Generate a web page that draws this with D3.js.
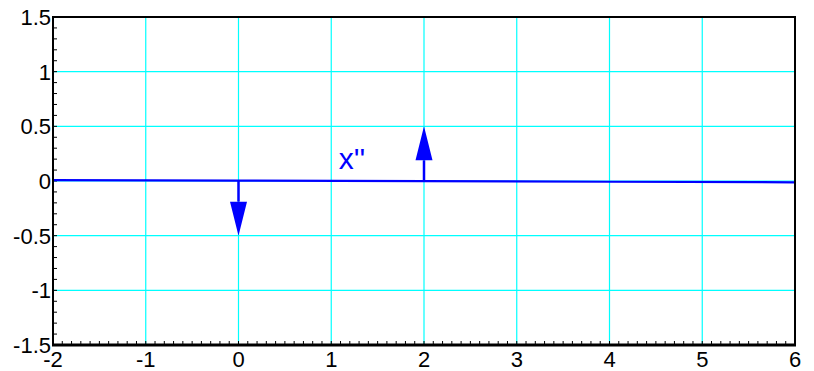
<!DOCTYPE html>
<html><head><meta charset="utf-8">
<script src="https://cdn.jsdelivr.net/npm/d3@7"></script>
<style>body{margin:0;background:#fff}svg{display:block}text{font-family:"Liberation Sans",Arial,sans-serif}</style>
</head><body>
<svg id="c" width="814" height="371"></svg>
<script>
const xTicks = [-2, -1, 0, 1, 2, 3, 4, 5, 6];
const xTickLabels = ["-2", "-1", "0", "1", "2", "3", "4", "5", "6"];
const yTicks = [-1.5, -1, -0.5, 0, 0.5, 1, 1.5];
const yTickLabels = ["-1.5", "-1", "-0.5", "0", "0.5", "1", "1.5"];
const lineX = [-2, 0, 2, 4, 6];
const lineY = [0.008, 0.003, -0.002, -0.007, -0.012];
const impulseX = [0, 2];
const impulseW = [-0.5, 0.5];
const labelText = "x''";
const labelPos = [1.08, 0.11];

const svg = d3.select("#c");
const L = 53, R = 795, T = 17, B = 345;
const x = d3.scaleLinear().domain([-2, 6]).range([L, R]);
const y = d3.scaleLinear().domain([-1.5, 1.5]).range([B, T]);

// grid
const g = svg.append("g");
g.selectAll(".gx").data(xTicks).enter().append("line")
  .attr("x1", d => x(d)).attr("x2", d => x(d)).attr("y1", T).attr("y2", B)
  .attr("stroke", "#00ffff").attr("stroke-width", 1.2);
g.selectAll(".gy").data(yTicks).enter().append("line")
  .attr("y1", d => y(d)).attr("y2", d => y(d)).attr("x1", L).attr("x2", R)
  .attr("stroke", "#00ffff").attr("stroke-width", 1.2);

// minor ticks
const xMinor = d3.range(-20, 61).map(i => i / 10);
const yMinor = d3.range(-15, 16).map(i => i / 10);
svg.append("g").selectAll("line").data(xMinor).enter().append("line")
  .attr("x1", d => x(d)).attr("x2", d => x(d)).attr("y1", B).attr("y2", B - 4)
  .attr("stroke", "#000").attr("stroke-width", 1);
svg.append("g").selectAll("line").data(yMinor).enter().append("line")
  .attr("y1", d => y(d)).attr("y2", d => y(d)).attr("x1", L).attr("x2", L + 4)
  .attr("stroke", "#000").attr("stroke-width", 1);

// data line
svg.append("path").datum(lineX.map((d, i) => [d, lineY[i]]))
  .attr("d", d3.line().x(d => x(d[0])).y(d => y(d[1])))
  .attr("fill", "none").attr("stroke", "#0000ff").attr("stroke-width", 2.2);

// impulses
const headLen = 34, headW = 8.5;
impulseX.forEach((xv, i) => {
  const w = impulseW[i];
  const x0 = x(xv), y0 = y(0), y1 = y(w);
  const dir = Math.sign(y1 - y0);
  svg.append("line").attr("x1", x0).attr("x2", x0).attr("y1", y0).attr("y2", y1 - dir * headLen)
    .attr("stroke", "#0000ff").attr("stroke-width", 2.5);
  const yb = y1 - dir * headLen;
  svg.append("path").attr("d", `M${x0 - headW},${yb}L${x0 + headW},${yb}L${x0},${y1}Z`)
    .attr("fill", "#0000ff");
});

// label
svg.append("text").attr("x", x(labelPos[0])).attr("y", y(labelPos[1]))
  .attr("fill", "#0000ff").attr("font-size", 30).text(labelText);

// frame
svg.append("rect").attr("x", L).attr("y", T).attr("width", R - L).attr("height", B - T)
  .attr("fill", "none").attr("stroke", "#000").attr("stroke-width", 2);
svg.append("line").attr("x1", L - 1).attr("x2", R + 1).attr("y1", B).attr("y2", B)
  .attr("stroke", "#000").attr("stroke-width", 3);

// tick labels
svg.append("g").selectAll("text").data(xTicks).enter().append("text")
  .attr("x", d => x(d)).attr("y", 367).attr("text-anchor", "middle")
  .attr("font-size", 22).attr("fill", "#000").text((d, i) => xTickLabels[i]);
svg.append("g").selectAll("text").data(yTicks).enter().append("text")
  .attr("x", 51).attr("y", d => y(d) + 8).attr("text-anchor", "end")
  .attr("font-size", 22).attr("fill", "#000").text((d, i) => yTickLabels[i]);
</script>
</body></html>
